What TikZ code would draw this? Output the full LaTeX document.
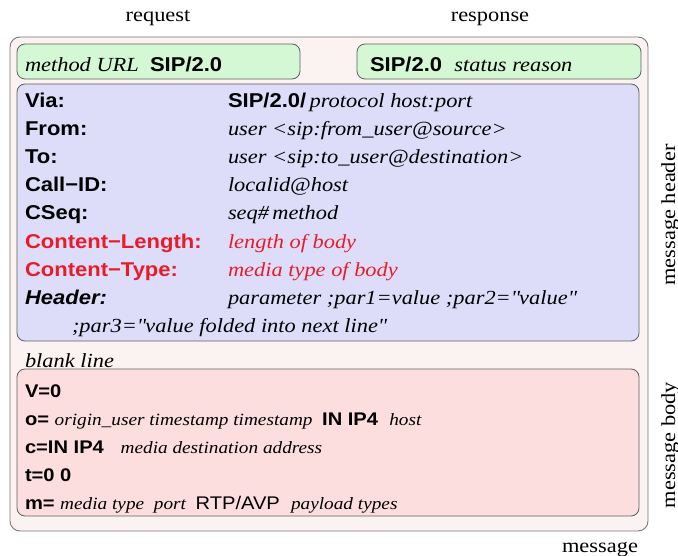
\documentclass[tikz,border=0pt]{standalone}
\usepackage{fontspec}
\setmainfont[FakeStretch=1.12]{Liberation Serif}
\setsansfont[FakeStretch=1.1]{Liberation Sans}
\definecolor{outerfill}{RGB}{250,243,241}
\definecolor{greenfill}{RGB}{212,247,212}
\definecolor{bluefill}{RGB}{221,221,250}
\definecolor{pinkfill}{RGB}{253,222,223}
\definecolor{hdrred}{RGB}{232,28,40}
\definecolor{edge}{RGB}{120,120,120}
\newcommand{\fsans}{\sffamily\mdseries\upshape\fontsize{20}{22}\selectfont}
\newcommand{\fbold}{\sffamily\bfseries\upshape\fontsize{20}{22}\selectfont}
\newcommand{\fital}{\rmfamily\mdseries\itshape\fontsize{20}{22}\selectfont}
% slightly smaller faces for the SDP body
\newcommand{\bsans}{\sffamily\mdseries\upshape\fontsize{18.3}{20}\selectfont}
\newcommand{\bbold}{\sffamily\bfseries\upshape\fontsize{18.3}{20}\selectfont}
\newcommand{\bital}{\rmfamily\mdseries\itshape\fontsize{17.2}{20}\selectfont}
\newcommand{\dq}{\textquotedbl}
\tikzset{
  msgbox/.style={draw=edge, fill=outerfill, rounded corners=10pt, line width=0.9pt},
  startbox/.style={draw=edge!80!black, fill=greenfill, rounded corners=8pt, line width=0.8pt},
  headbox/.style={draw=edge!80!black, fill=bluefill, rounded corners=8pt, line width=0.8pt},
  bodybox/.style={draw=edge!80!black, fill=pinkfill, rounded corners=8pt, line width=0.8pt},
  txt/.style={anchor=base west, inner sep=0pt, outer sep=0pt},
  side/.style={inner sep=0pt, font=\rmfamily\fontsize{20}{22}\selectfont},
}
\begin{document}
\begin{tikzpicture}[x=1pt,y=-1pt]
\useasboundingbox (0,0) rectangle (678,556);
% boxes
\draw[msgbox] (10,37) rectangle (648,531);
\draw[startbox] (17,44) rectangle (300,79);
\draw[startbox] (357,44) rectangle (641,79);
\draw[headbox] (17,84) rectangle (639,341);
\draw[bodybox] (17,369) rectangle (639,516);
% labels around the message
\node[side, anchor=base] (req) at (158,22) {request};
\node[side, anchor=base] (resp) at (490,22) {response};
\node[side, anchor=base] (msg) at (600,552) {message};
\node[side, rotate=90, anchor=base] (mh) at (675,215) {message header};
\node[side, rotate=90, anchor=base] (mb) at (675,445) {message body};
% start lines
\node[txt] (sl1) at (25,72) {\fital method URL\ \ \fbold SIP/2.0};
\node[txt] (sl2) at (370,72) {\fbold SIP/2.0\ \ \fital status reason};
% header fields
\node[txt] (h1) at (25,108) {\fbold Via:};
\node[txt] (v1) at (228,108) {\fbold SIP/2.0/\fital\,protocol host:port};
\node[txt] (h2) at (25,136) {\fbold From:};
\node[txt] (v2) at (228,136) {\fital user <sip:from\_user@source>};
\node[txt] (h3) at (25,164) {\fbold To:};
\node[txt] (v3) at (228,164) {\fital user <sip:to\_user@destination>};
\node[txt] (h4) at (25,192) {\fbold Call\textminus ID:};
\node[txt] (v4) at (228,192) {\fital localid@host};
\node[txt] (h5) at (25,220) {\fbold CSeq:};
\node[txt] (v5) at (228,220) {\fital seq\#\,method};
\node[txt, text=hdrred] (h6) at (25,249) {\fbold Content\textminus Length:};
\node[txt, text=hdrred] (v6) at (228,249) {\fital length of body};
\node[txt, text=hdrred] (h7) at (25,277) {\fbold Content\textminus Type:};
\node[txt, text=hdrred] (v7) at (228,277) {\fital media type of body};
\node[txt] (h8) at (25,305) {\fbold\itshape Header:};
\node[txt] (v8) at (228,305) {\fital parameter ;par1=value ;par2=\dq value\dq};
\node[txt] (v9) at (72,333) {\fital ;par3=\dq value folded into next line\dq};
% blank line
\node[txt] (bl) at (25,367) {\fital blank line};
% body lines
\node[txt] (b1) at (25,397) {\bbold V=0};
\node[txt] (b2) at (25,425) {\bbold o=\ \bital origin\_user timestamp timestamp\ \ \bbold IN IP4\ \ \bital host};
\node[txt] (b3) at (25,453) {\bbold c=IN IP4\ \ \ \bital media destination address};
\node[txt] (b4) at (25,481) {\bbold t=0 0};
\node[txt] (b5) at (25,509) {\bbold m=\ \bital media type\ \ port\ \ \bsans RTP/AVP\ \ \bital payload types};
\end{tikzpicture}
\end{document}
